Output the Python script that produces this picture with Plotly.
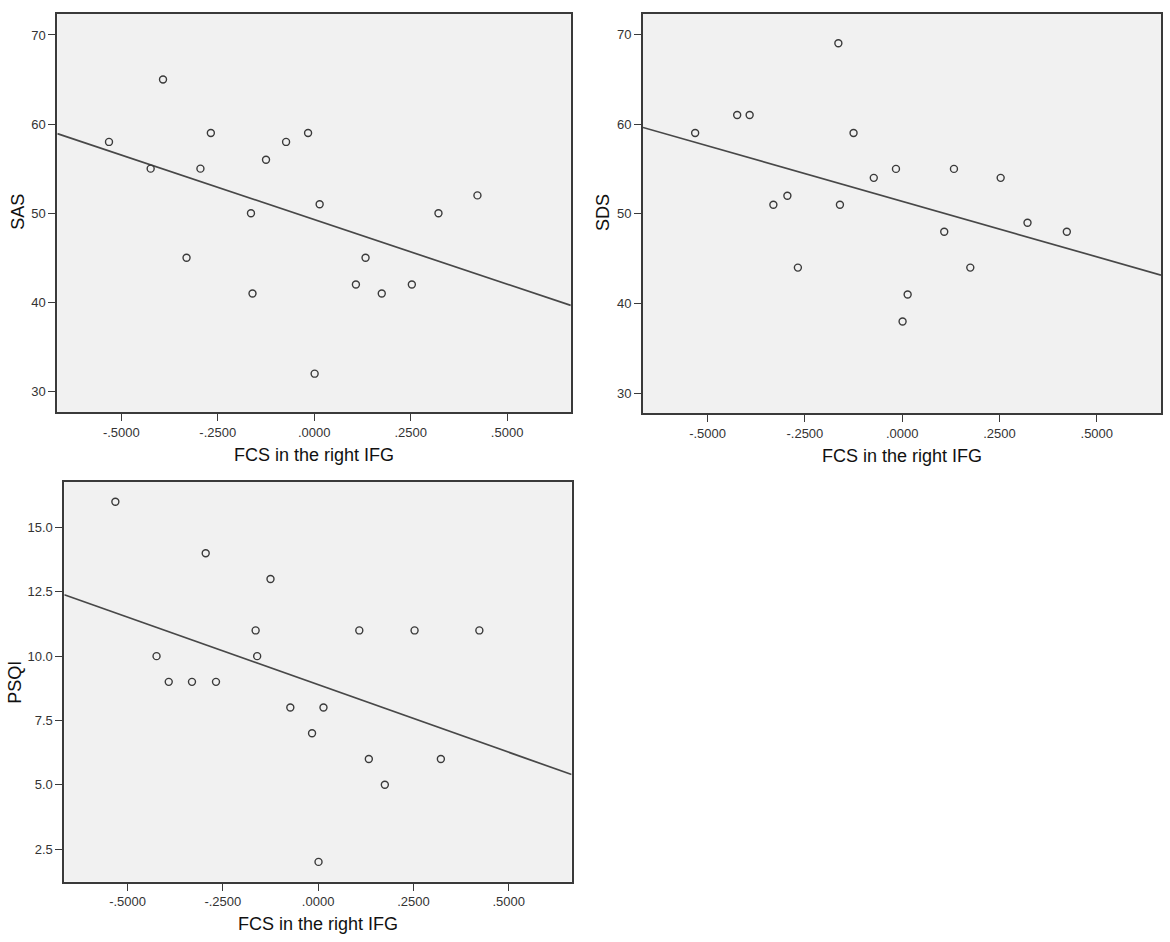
import numpy as np
import plotly.graph_objects as go

# FCS in the right IFG (shared x for all three panels)
fcs = [-0.532, -0.424, -0.392, -0.331, -0.295, -0.268, -0.164, -0.160, -0.125, -0.073,
       -0.016, 0.001, 0.014, 0.108, 0.133, 0.175, 0.253, 0.322, 0.423]
sas = [58, 55, 65, 45, 55, 59, 50, 41, 56, 58, 59, 32, 51, 42, 45, 41, 42, 50, 52]
sds = [59, 61, 61, 51, 52, 44, 69, 51, 59, 54, 55, 38, 41, 48, 55, 44, 54, 49, 48]
psqi = [16, 10, 9, 9, 14, 9, 11, 10, 13, 8, 7, 2, 8, 11, 6, 5, 11, 6, 11]

x_ticks = [-0.5, -0.25, 0, 0.25, 0.5]
x_ticktext = ["-.5000", "-.2500", ".0000", ".2500", ".5000"]
score_ticks = [30, 40, 50, 60, 70]
psqi_ticks = [2.5, 5.0, 7.5, 10.0, 12.5, 15.0]
psqi_ticktext = ["2.5", "5.0", "7.5", "10.0", "12.5", "15.0"]

W, H = 1170, 942


def fx(px):
    return px / W


def fy(py):
    return 1 - py / H


x_range = [-0.666, 0.665]
dark = "#3a3a3a"
tick_font = dict(family="Liberation Sans, Arial, sans-serif", size=13, color="#333333")
title_font = dict(family="Liberation Sans, Arial, sans-serif", size=18, color="#111111")

# frame boxes (window pixels) and title centres
panels = [
    dict(y=sas, name="SAS", box=(57.3, 570.8, 14, 412), yr=[27.7, 72.35],
         yt=score_ticks, ytt=[str(v) for v in score_ticks],
         ytitle=(17.8, 212), xtitle=(314, 455)),
    dict(y=sds, name="SDS", box=(643, 1161, 14, 413), yr=[27.8, 72.26],
         yt=score_ticks, ytt=[str(v) for v in score_ticks],
         ytitle=(603, 212), xtitle=(902, 456)),
    dict(y=psqi, name="PSQI", box=(64.3, 571.6, 482, 881.7), yr=[1.23, 16.77],
         yt=psqi_ticks, ytt=psqi_ticktext,
         ytitle=(14.8, 682), xtitle=(318, 924)),
]

fig = go.Figure()
annotations = []
for i, p in enumerate(panels, start=1):
    xa = "x" if i == 1 else f"x{i}"
    ya = "y" if i == 1 else f"y{i}"
    x0, x1, y0, y1 = p["box"]
    slope, icpt = np.polyfit(fcs, p["y"], 1)
    fig.add_trace(go.Scatter(x=x_range, y=[icpt + slope * v for v in x_range], mode="lines",
                             line=dict(color="#484848", width=1.7), xaxis=xa, yaxis=ya,
                             showlegend=False, hoverinfo="skip"))
    fig.add_trace(go.Scatter(x=fcs, y=p["y"], mode="markers", xaxis=xa, yaxis=ya,
                             marker=dict(symbol="circle-open", size=7, color=dark,
                                         line=dict(width=1.4, color=dark)),
                             showlegend=False))
    axis_common = dict(showline=True, linecolor=dark, linewidth=1.8, mirror=True,
                       showgrid=False, zeroline=False, ticks="outside", ticklen=7,
                       tickcolor=dark, tickwidth=1.3, tickfont=tick_font)
    fig.update_layout(**{
        ("xaxis" if i == 1 else f"xaxis{i}"): dict(domain=[fx(x0), fx(x1)], range=x_range,
                                                  anchor=ya, tickvals=x_ticks,
                                                  ticktext=x_ticktext, **axis_common),
        ("yaxis" if i == 1 else f"yaxis{i}"): dict(domain=[fy(y1), fy(y0)], range=p["yr"],
                                                  anchor=xa, tickvals=p["yt"],
                                                  ticktext=p["ytt"], ticklabelstandoff=0,
                                                  **axis_common),
    })
    annotations.append(dict(text=p["name"], xref="paper", yref="paper",
                            x=fx(p["ytitle"][0]), y=fy(p["ytitle"][1]), textangle=-90,
                            showarrow=False, font=title_font,
                            xanchor="center", yanchor="middle"))
    annotations.append(dict(text="FCS in the right IFG", xref="paper", yref="paper",
                            x=fx(p["xtitle"][0]), y=fy(p["xtitle"][1]), showarrow=False,
                            font=title_font, xanchor="center", yanchor="middle"))

fig.update_layout(width=W, height=H, margin=dict(l=0, r=0, t=0, b=0),
                  paper_bgcolor="white", plot_bgcolor="#f1f1f1",
                  annotations=annotations)

# drop the default page margin so the figure sits flush with the window
fig.write_html("out.html", config={"displayModeBar": False},
               post_script="document.body.style.margin = '0';")
